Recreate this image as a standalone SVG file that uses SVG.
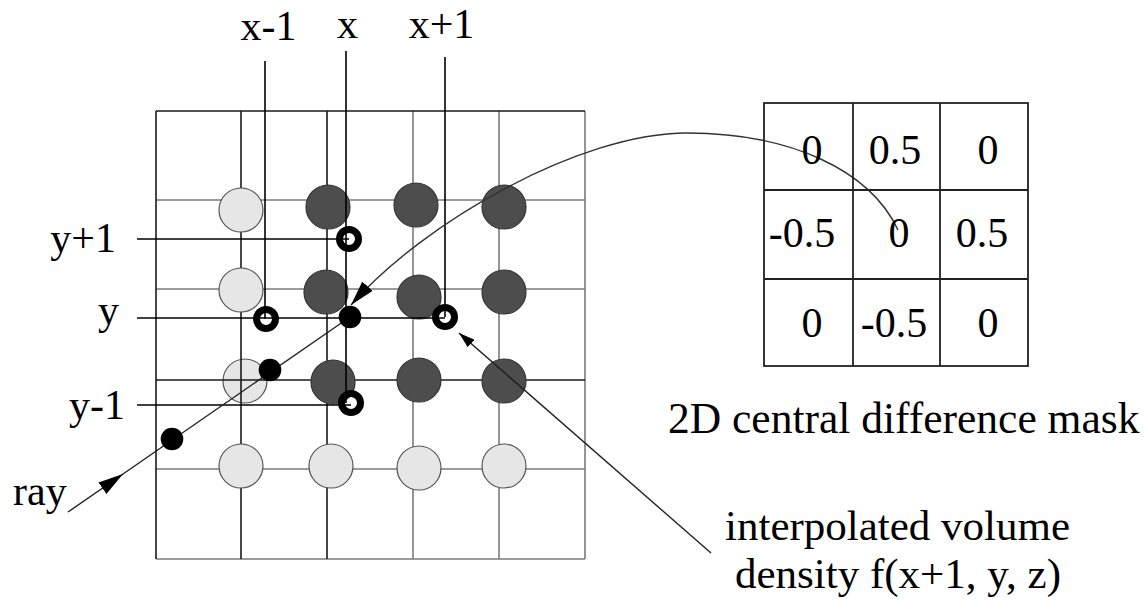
<svg xmlns="http://www.w3.org/2000/svg" width="1145" height="600" viewBox="0 0 1145 600">
<defs>
<style>
.t{font-family:"Liberation Serif","Times New Roman",serif;fill:#000}
.lbl{font-size:42px}
.cap{font-size:43.5px}
.cap2{font-size:43px}
.dk{stroke:#1a1a1a;stroke-width:1.6;fill:none}
.gr{stroke:#7a7a7a;stroke-width:1.6;fill:none}
.light{fill:#e6e6e6;stroke:#555;stroke-width:1.2}
.dark{fill:#4d4d4d;stroke:#333;stroke-width:1.2}
.ring{fill:none;stroke:#000;stroke-width:7}
.dot{fill:#000}
.guide{stroke:#000;stroke-width:1.6;fill:none}
.mask{stroke:#222;stroke-width:1.8;fill:none}
</style>
<marker id="ahBig" markerUnits="userSpaceOnUse" viewBox="0 0 25 14" markerWidth="25" markerHeight="14" refX="25" refY="7" orient="auto">
<path d="M0,0 L25,7 L0,14 z" fill="#000"/>
</marker>
<marker id="ahSmall" markerUnits="userSpaceOnUse" viewBox="0 0 16 10" markerWidth="16" markerHeight="10" refX="16" refY="5" orient="auto">
<path d="M0,0 L16,5 L0,10 z" fill="#000"/>
</marker>
</defs>
<rect width="1145" height="600" fill="#fff"/>

<g id="volume-grid">
<circle class="light" cx="245" cy="381" r="22"/>
<line class="gr" x1="156" y1="559" x2="585" y2="559"/>
<line class="gr" x1="585" y1="111" x2="585" y2="559"/>
<line class="gr" x1="413" y1="111" x2="413" y2="559"/>
<line class="gr" x1="499" y1="111" x2="499" y2="559"/>
<line class="gr" x1="156" y1="200" x2="585" y2="200"/>
<line class="gr" x1="156" y1="289" x2="585" y2="289"/>
<line class="gr" x1="156" y1="469" x2="585" y2="469"/>
<line class="dk" x1="156" y1="111" x2="585" y2="111"/>
<line class="dk" x1="156" y1="111" x2="156" y2="559"/>
<line class="dk" x1="241" y1="111" x2="241" y2="559"/>
<line class="dk" x1="327" y1="111" x2="327" y2="559"/>
<line class="dk" x1="156" y1="380" x2="585" y2="380"/>
</g>

<g id="voxels">
<circle class="light" cx="241" cy="210" r="22"/>
<circle class="dark" cx="328" cy="207" r="22"/>
<circle class="dark" cx="416" cy="205" r="22"/>
<circle class="dark" cx="504" cy="207" r="22"/>
<circle class="light" cx="241" cy="290" r="22"/>
<circle class="dark" cx="326" cy="292" r="22"/>
<circle class="dark" cx="419" cy="297" r="22"/>
<circle class="dark" cx="504" cy="292" r="22"/>
<circle class="dark" cx="333" cy="382" r="22"/>
<circle class="dark" cx="419" cy="380" r="22"/>
<circle class="dark" cx="504" cy="381" r="22"/>
<circle class="light" cx="241" cy="466" r="22"/>
<circle class="light" cx="331" cy="466" r="22"/>
<circle class="light" cx="419" cy="468" r="22"/>
<circle class="light" cx="504" cy="466" r="22"/>
</g>

<g id="guides">
<line class="guide" x1="265" y1="61" x2="265" y2="319"/>
<line class="guide" x1="346" y1="51" x2="346" y2="403"/>
<line class="guide" x1="445" y1="57" x2="445" y2="317"/>
<line class="guide" x1="137" y1="239" x2="349" y2="239"/>
<line class="guide" x1="137" y1="318" x2="445" y2="318"/>
<line class="guide" x1="137" y1="405" x2="351" y2="405"/>
</g>

<g id="connectors">
<path d="M68,512 L123,474 L350,317" fill="none" stroke="#222" stroke-width="1.4" marker-mid="url(#ahBig)"/>
<path d="M898,230 C870,170 790,133 687,133 C580,133 424,222 351,305" fill="none" stroke="#333" stroke-width="1.4" marker-end="url(#ahBig)"/>
<path d="M711,553 L459,333" fill="none" stroke="#222" stroke-width="1.4" marker-end="url(#ahSmall)"/>
</g>

<g id="samples">
<circle class="ring" cx="349" cy="239" r="9.5"/>
<circle class="ring" cx="266" cy="319" r="9.5"/>
<circle class="ring" cx="445" cy="317" r="9.5"/>
<circle class="ring" cx="351" cy="403" r="9.5"/>
<circle class="dot" cx="350" cy="317" r="11.3"/>
<circle class="dot" cx="270" cy="370" r="11.3"/>
<circle class="dot" cx="172" cy="439" r="11.3"/>
</g>

<g id="axis-labels">
<text class="t lbl" x="268.5" y="40" text-anchor="middle">x-1</text>
<text class="t lbl" x="347.5" y="38" text-anchor="middle">x</text>
<text class="t lbl" x="441.5" y="38" text-anchor="middle">x+1</text>
<text class="t lbl" x="116" y="252" text-anchor="end">y+1</text>
<text class="t lbl" x="119" y="324" text-anchor="end">y</text>
<text class="t lbl" x="125" y="419" text-anchor="end">y-1</text>
<text class="t lbl" x="13" y="505">ray</text>
</g>

<g id="mask">
<rect class="mask" x="764" y="103" width="264" height="263"/>
<line class="mask" x1="853" y1="103" x2="853" y2="366"/>
<line class="mask" x1="940" y1="103" x2="940" y2="366"/>
<line class="mask" x1="764" y1="190" x2="1028" y2="190"/>
<line class="mask" x1="764" y1="279" x2="1028" y2="279"/>
<text class="t lbl" x="812" y="164" text-anchor="middle">0</text>
<text class="t lbl" x="895" y="164" text-anchor="middle">0.5</text>
<text class="t lbl" x="988" y="164" text-anchor="middle">0</text>
<text class="t lbl" x="802" y="247" text-anchor="middle">-0.5</text>
<text class="t lbl" x="899" y="247" text-anchor="middle">0</text>
<text class="t lbl" x="982" y="247" text-anchor="middle">0.5</text>
<text class="t lbl" x="812" y="337" text-anchor="middle">0</text>
<text class="t lbl" x="894" y="337" text-anchor="middle">-0.5</text>
<text class="t lbl" x="988" y="337" text-anchor="middle">0</text>
</g>

<g id="captions">
<text class="t cap" x="668" y="433">2D central difference mask</text>
<text class="t cap2"><tspan x="725" y="540">interpolated volume</tspan><tspan x="735" y="588">density f(x+1, y, z)</tspan></text>
</g>
</svg>
